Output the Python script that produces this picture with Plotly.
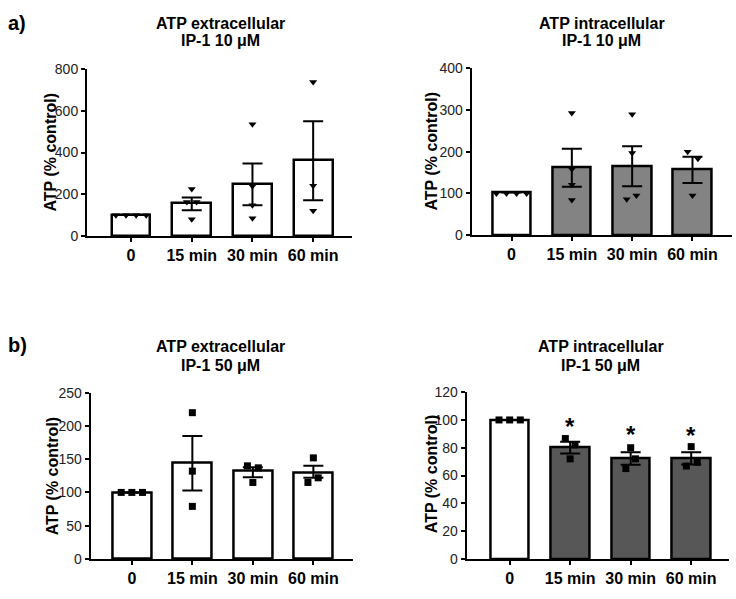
import plotly.graph_objects as go

W, H = 736, 599
FONT = "Liberation Sans, Arial, sans-serif"

categories = ["0", "15 min", "30 min", "60 min"]

# ---- Panel a) extracellular, IP-1 10 uM ----
a1_mean = [102, 158, 249, 365]
a1_upper = [102, 185, 347, 550]
a1_lower = [102, 123, 148, 172]
a1_points = [[100, 100, 100, 100], [225, 163, 163, 81], [536, 239, 148, 85], [738, 241, 121]]

# ---- Panel a) intracellular, IP-1 10 uM ----
a2_mean = [102, 163, 166, 158]
a2_upper = [102, 207, 213, 188]
a2_lower = [102, 116, 117, 125]
a2_points = [[100, 100, 100, 100], [293, 158, 121, 84], [290, 197, 86, 95], [200, 183, 95]]

# ---- Panel b) extracellular, IP-1 50 uM ----
b1_mean = [100, 144, 132, 130]
b1_upper = [100, 185, 138, 140]
b1_lower = [100, 103, 123, 122]
b1_points = [[100, 100, 100], [220, 132, 79], [140, 137, 115], [152, 122, 115]]

# ---- Panel b) intracellular, IP-1 50 uM ----
b2_mean = [100, 80.3, 72.6, 72.6]
b2_upper = [100, 84.3, 76.8, 76.8]
b2_lower = [100, 75.9, 67.7, 67.9]
b2_points = [[100, 100, 100], [86.6, 82, 72], [80, 72, 65], [80.8, 69.6, 66.8]]
b2_sig = ["", "*", "*", "*"]
b2_sig_y = [None, 98, 92.5, 92]

# jitter offsets (category units) for individual points
a1_jit = [[-0.25, -0.083, 0.083, 0.25], [0, -0.08, 0.08, 0], [0, 0, 0, 0], [0, 0, 0]]
a2_jit = [[-0.25, -0.083, 0.083, 0.25], [0, 0, 0, 0], [0, 0, -0.09, 0.07], [-0.08, 0.09, 0]]
b1_jit = [[-0.176, 0, 0.176], [0, 0, 0], [-0.09, 0.09, 0], [0, 0.08, -0.09]]
b2_jit = [[-0.176, 0, 0.176], [-0.08, 0.08, 0], [0, 0.08, -0.08], [0, 0.1, -0.08]]


def px(x):
    return x / W


def py(y):
    return 1 - y / H


fig = go.Figure()

panels = [
    dict(mean=a1_mean, up=a1_upper, lo=a1_lower, pts=a1_points, jit=a1_jit,
         fills=["white", "white", "white", "white"], sym="triangle-down", ms=7,
         xd=(87, 352), yd=(234.3, 62.7), xr=[-0.726, 3.64], yr=[0, 800], dt=200),
    dict(mean=a2_mean, up=a2_upper, lo=a2_lower, pts=a2_points, jit=a2_jit,
         fills=["white", "#838383", "#838383", "#838383"], sym="triangle-down", ms=7,
         xd=(471.7, 731.7), yd=(233.3, 62.0), xr=[-0.66, 3.65], yr=[0, 400], dt=100),
    dict(mean=b1_mean, up=b1_upper, lo=b1_lower, pts=b1_points, jit=b1_jit,
         fills=["white", "white", "white", "white"], sym="square", ms=7,
         xd=(90.7, 352.7), yd=(566, 395.3), xr=[-0.68, 3.65], yr=[0, 250], dt=50),
    dict(mean=b2_mean, up=b2_upper, lo=b2_lower, pts=b2_points, jit=b2_jit,
         fills=["white", "#575757", "#575757", "#575757"], sym="square", ms=7,
         xd=(466.7, 729.3), yd=(566, 394.7), xr=[-0.71, 3.63], yr=[0, 120], dt=20),
]

for i, p in enumerate(panels):
    n = i + 1
    xa = "x" if n == 1 else f"x{n}"
    ya = "y" if n == 1 else f"y{n}"
    idx = list(range(len(categories)))
    err_p = [u - m for u, m in zip(p["up"], p["mean"])]
    err_m = [m - l for m, l in zip(p["mean"], p["lo"])]
    err_p[0] = 0
    err_m[0] = 0
    fig.add_trace(go.Bar(
        x=idx, y=p["mean"], width=0.64,
        marker=dict(color=p["fills"], line=dict(color="black", width=2.5)),
        error_y=dict(type="data", symmetric=False, array=err_p, arrayminus=err_m,
                     color="black", thickness=2, width=10, visible=True),
        xaxis=xa, yaxis=ya, showlegend=False, hoverinfo="skip",
    ))
    xs, ys = [], []
    for c, (vals, jits) in enumerate(zip(p["pts"], p["jit"])):
        for v, j in zip(vals, jits):
            xs.append(c + j)
            ys.append(v)
    fig.add_trace(go.Scatter(
        x=xs, y=ys, mode="markers",
        marker=dict(symbol=p["sym"], size=p["ms"], color="black", line=dict(width=0)),
        xaxis=xa, yaxis=ya, showlegend=False, hoverinfo="skip", cliponaxis=False,
    ))
    xkey = "xaxis" if n == 1 else f"xaxis{n}"
    ykey = "yaxis" if n == 1 else f"yaxis{n}"
    fig.update_layout(**{
        xkey: dict(domain=[px(p["xd"][0]), px(p["xd"][1])], range=p["xr"],
                   anchor=ya, tickmode="array", tickvals=idx, ticktext=categories,
                   showline=True, linecolor="black", linewidth=2, showgrid=False,
                   zeroline=False, ticks="outside", ticklen=4, tickwidth=2, tickcolor="black",
                   tickfont=dict(family=FONT, size=16, color="black", weight="bold"),
                   fixedrange=True),
        ykey: dict(domain=[py(p["yd"][0]), py(p["yd"][1])], range=p["yr"],
                   anchor=xa, dtick=p["dt"], tick0=0,
                   showline=True, linecolor="black", linewidth=2, showgrid=False,
                   zeroline=False, ticks="outside", ticklen=4, tickwidth=2, tickcolor="black",
                   tickfont=dict(family=FONT, size=14, color="#222222"),
                   fixedrange=True),
    })

# significance asterisks in b) intracellular
for c, (s, yv) in enumerate(zip(b2_sig, b2_sig_y)):
    if s:
        fig.add_annotation(x=c, y=yv, xref="x4", yref="y4", text="<b>*</b>", showarrow=False,
                           font=dict(family=FONT, size=24, color="black"), yanchor="middle",
                           yshift=-4)

annots = []
titles = [
    ("ATP extracellular", "IP-1 10 μM", 221, 15.5, 33.5),
    ("ATP intracellular", "IP-1 10 μM", 601.5, 15.5, 33.5),
    ("ATP extracellular", "IP-1 50 μM", 221, 347.5, 367),
    ("ATP intracellular", "IP-1 50 μM", 600.7, 348, 367.5),
]
for l1, l2, cx, y1, y2 in titles:
    annots.append(dict(x=px(cx), y=py(y1), xref="paper", yref="paper", text=f"<b>{l1}</b>",
                       showarrow=False, font=dict(family=FONT, size=16, color="black"),
                       xanchor="center", yanchor="middle"))
    annots.append(dict(x=px(cx), y=py(y2), xref="paper", yref="paper", text=f"<b>{l2}</b>",
                       showarrow=False, font=dict(family=FONT, size=16, color="black"),
                       xanchor="center", yanchor="middle"))

ylabels = [(51, 148.5), (432, 147.5), (52.5, 480.7), (431, 479)]
for cx, cy in ylabels:
    annots.append(dict(x=px(cx), y=py(cy), xref="paper", yref="paper", text="<b>ATP (% control)</b>",
                       showarrow=False, textangle=-90, font=dict(family=FONT, size=16, color="black"),
                       xanchor="center", yanchor="middle"))

annots.append(dict(x=px(6), y=py(15), xref="paper", yref="paper", text="<b>a)</b>", showarrow=False,
                   font=dict(family=FONT, size=20, color="black"), xanchor="left", yanchor="middle"))
annots.append(dict(x=px(6), y=py(346.5), xref="paper", yref="paper", text="<b>b)</b>", showarrow=False,
                   font=dict(family=FONT, size=20, color="black"), xanchor="left", yanchor="middle"))

for a in annots:
    fig.add_annotation(**a)

fig.update_layout(
    width=W, height=H, margin=dict(l=0, r=0, t=0, b=0),
    paper_bgcolor="white", plot_bgcolor="white",
    font=dict(family=FONT), bargap=0, showlegend=False,
)

fig.write_html("out.html", config={"displayModeBar": False},
               post_script="document.body.style.margin='0';document.body.style.overflow='hidden';")
